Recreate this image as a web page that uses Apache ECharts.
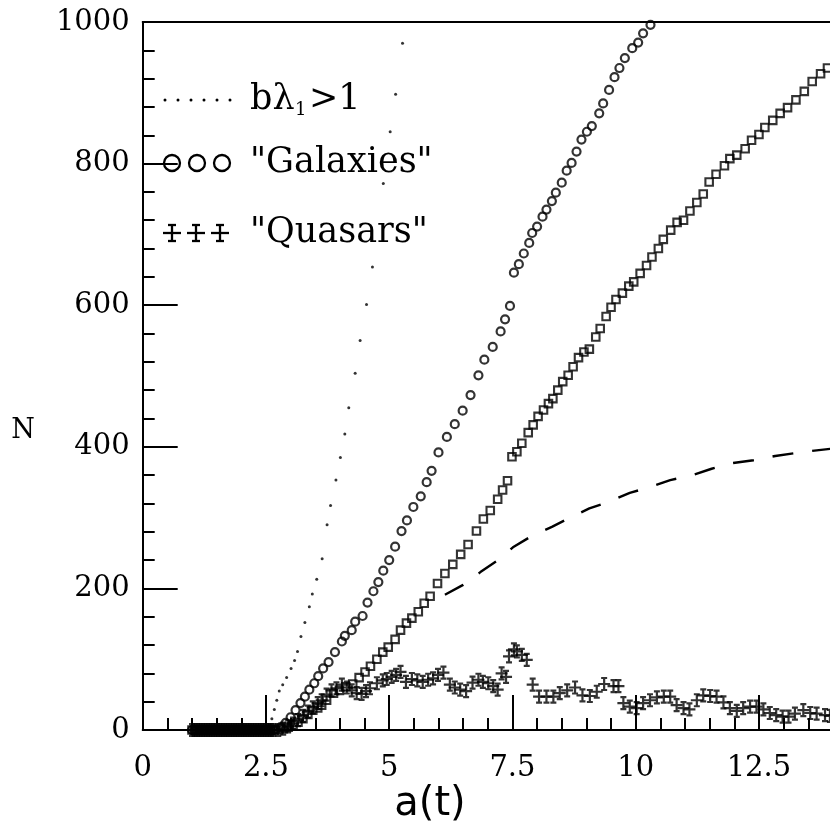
<!DOCTYPE html>
<html>
<head>
<meta charset="utf-8">
<script src="https://cdn.jsdelivr.net/npm/echarts@6/dist/echarts.min.js"></script>
<style>
  html, body { margin: 0; padding: 0; background: #fff; }
  #chart { width: 830px; height: 828px; }
</style>
</head>
<body>
<div id="chart"></div>
<script>
// Early flat stretch: every population sits at N = 0 for these expansion factors
const earlyA = [1.00,1.05,1.10,1.15,1.20,1.25,1.30,1.35,1.40,1.45,1.50,1.55,1.60,1.65,1.70,1.75,1.80,1.85,1.90,1.95,2.00,2.05,2.10,2.15,2.20,2.25,2.30,2.35,2.40,2.45,2.50,2.55,2.60,2.65];

// "Galaxies" (open circles)
const galA = [2.70,2.80,2.90,3.00,3.10,3.20,3.29,3.38,3.48,3.56,3.66,3.77,3.90,4.04,4.10,4.24,4.31,4.46,4.56,4.68,4.78,4.88,5.00,5.12,5.25,5.36,5.49,5.64,5.76,5.86,6.00,6.17,6.33,6.49,6.65,6.81,6.93,7.10,7.26,7.35,7.45,7.53,7.63,7.73,7.84,7.90,8.00,8.11,8.19,8.30,8.38,8.50,8.60,8.70,8.80,8.90,9.01,9.11,9.26,9.34,9.46,9.57,9.67,9.78,9.93,10.05,10.15,10.30];
const galN = [1,4,10,18,28,38,47,57,66,76,87,96,110,125,133,141,153,161,180,196,209,225,240,259,281,296,315,330,350,366,392,414,432,451,473,501,523,541,563,580,599,646,658,673,688,702,711,725,735,747,759,773,790,801,817,834,845,853,871,885,904,922,935,949,963,971,984,996];

// Open squares
const sqA = [2.75,2.85,2.95,3.05,3.15,3.25,3.35,3.45,3.55,3.63,3.73,3.87,3.99,4.12,4.26,4.39,4.51,4.62,4.75,4.87,4.98,5.12,5.23,5.35,5.46,5.59,5.71,5.83,5.98,6.13,6.29,6.45,6.60,6.77,6.91,7.05,7.20,7.30,7.40,7.49,7.59,7.69,7.82,7.92,8.02,8.13,8.23,8.32,8.42,8.52,8.63,8.73,8.84,8.95,9.06,9.19,9.28,9.40,9.50,9.60,9.73,9.86,9.96,10.09,10.22,10.33,10.46,10.56,10.71,10.84,10.97,11.10,11.24,11.37,11.49,11.63,11.80,11.91,12.05,12.22,12.35,12.50,12.62,12.78,12.93,13.08,13.25,13.42,13.58,13.75,13.89];
const sqN = [0,2,4,7,11,16,22,28,31,35,42,52,56,61,65,74,82,90,100,110,117,128,141,151,158,167,179,189,207,221,234,248,262,281,298,310,326,339,352,386,393,405,420,431,443,452,461,468,480,492,501,513,526,534,538,555,567,584,597,608,617,627,633,645,656,668,680,693,706,717,720,733,745,757,774,785,797,807,812,821,833,841,851,861,871,879,890,902,916,927,935];

// "Quasars" (crosses)
const qsoA = [2.75,2.85,2.95,3.05,3.15,3.25,3.35,3.45,3.55,3.63,3.73,3.83,3.93,4.04,4.14,4.24,4.34,4.44,4.53,4.61,4.75,4.87,4.95,5.05,5.14,5.23,5.34,5.46,5.57,5.68,5.79,5.89,5.99,6.10,6.23,6.33,6.44,6.56,6.69,6.81,6.90,7.01,7.11,7.20,7.28,7.37,7.43,7.53,7.59,7.69,7.79,7.91,8.04,8.19,8.33,8.46,8.61,8.77,8.92,9.07,9.21,9.36,9.55,9.65,9.75,9.88,10.02,10.15,10.29,10.43,10.57,10.70,10.83,10.97,11.09,11.24,11.37,11.51,11.64,11.78,11.91,12.05,12.18,12.32,12.45,12.59,12.72,12.85,12.98,13.10,13.23,13.40,13.54,13.67,13.84,13.94];
const qsoN = [0,2,5,9,14,20,26,32,38,42,50,56,59,64,60,56,52,51,55,59,66,70,72,75,78,82,68,72,70,68,71,73,78,81,64,60,57,55,67,71,68,66,62,57,80,75,104,114,111,106,99,64,47,47,47,52,56,60,49,48,54,65,62,62,38,33,31,38,42,46,47,47,35,31,29,42,49,48,47,39,31,27,31,33,33,29,24,21,19,19,23,28,24,23,21,20];

// b*lambda_1 > 1 threshold (small dots)
const dotA = [2.58,2.62,2.67,2.72,2.77,2.84,2.92,3.01,3.08,3.14,3.21,3.29,3.38,3.44,3.53,3.64,3.74,3.81,3.92,4.01,4.10,4.18,4.31,4.41,4.54,4.66,4.88,5.02,5.13,5.27];
const dotN = [6,16,29,42,55,64,74,87,98,111,132,152,174,192,213,242,290,317,353,385,418,455,504,550,601,654,772,845,898,970];

// Dashed curve
const dashA = [6.13,6.50,6.85,7.21,7.51,7.89,8.30,8.70,9.06,9.48,9.88,10.29,10.70,11.15,11.54,11.97,12.39,12.83,13.23,13.67,14.20];
const dashN = [191,205,223,240,258,274,287,301,313,323,335,343,353,360,369,377,381,387,391,395,399];

// Axis ticks
const xTickStep = 2.5;
const yTickStep = 200;

function pairs(xs, ys) {
  const n = Math.min(xs.length, ys.length);
  const out = [];
  for (let i = 0; i < n; i++) out.push([xs[i], ys[i]]);
  return out;
}
function withEarly(xs, ys) {
  return earlyA.map(a => [a, 0]).concat(pairs(xs, ys));
}

const INK = '#000';
const serif = 'DejaVu Serif';
const crossPath = 'path://M3,0L9,0M6,0L6,12M0,6L12,6M3,12L9,12';

const chart = echarts.init(document.getElementById('chart'), null, { renderer: 'canvas' });

// Legend glyphs drawn as plain shapes next to the left axis, plus axis titles
const legend = [];
[165, 178, 191, 204, 217, 230].forEach(x => legend.push({
  type: 'circle', shape: { cx: x, cy: 100, r: 1.5 }, style: { fill: INK }
}));
[172, 197, 222].forEach(x => legend.push({
  type: 'circle', shape: { cx: x, cy: 163, r: 8 }, style: { fill: 'none', stroke: INK, lineWidth: 2.3 }
}));
[172, 196, 220].forEach(x => {
  const y = 233;
  const segs = [[x - 4, y - 8, x + 4, y - 8], [x, y - 8, x, y + 8], [x - 9, y, x + 9, y], [x - 4, y + 8, x + 4, y + 8]];
  segs.forEach(s => legend.push({
    type: 'line', shape: { x1: s[0], y1: s[1], x2: s[2], y2: s[3] }, style: { stroke: INK, lineWidth: 2.3 }
  }));
});
const legendFont = '35px "DejaVu Serif"';
legend.push({ type: 'text', x: 250, y: 100, style: { text: 'bλ', font: legendFont, fill: INK, verticalAlign: 'middle' } });
legend.push({ type: 'text', x: 295, y: 110, style: { text: '1', font: '18px "DejaVu Serif"', fill: INK, verticalAlign: 'middle' } });
legend.push({ type: 'text', x: 309, y: 100, style: { text: '>1', font: legendFont, fill: INK, verticalAlign: 'middle' } });
legend.push({ type: 'text', x: 250, y: 163, style: { text: '"Galaxies"', font: legendFont, fill: INK, verticalAlign: 'middle' } });
legend.push({ type: 'text', x: 250, y: 233, style: { text: '"Quasars"', font: legendFont, fill: INK, verticalAlign: 'middle' } });
legend.push({ type: 'text', x: 430, y: 805, style: { text: 'a(t)', font: '40px "DejaVu Sans"', fill: INK, align: 'center', verticalAlign: 'middle' } });
legend.push({ type: 'text', x: 23, y: 431, style: { text: 'N', font: '27px "DejaVu Serif"', fill: INK, align: 'center', verticalAlign: 'middle' } });

const option = {
  backgroundColor: '#fff',
  animation: false,
  grid: { left: 142.7, top: 22, width: 739.5, height: 708, containLabel: false, outerBoundsMode: 'none' },
  xAxis: [{
    type: 'value', min: 0, max: 15, interval: xTickStep,
    axisLine: { show: true, lineStyle: { color: INK, width: 2 } },
    axisTick: { show: true, inside: true, length: 35, lineStyle: { color: INK, width: 2 } },
    minorTick: { show: true, splitNumber: 5, length: 12, lineStyle: { color: INK, width: 2 } },
    splitLine: { show: false },
    axisLabel: {
      margin: 10, showMaxLabel: false, padding: [14, 0, 0, 0],
      fontFamily: serif, fontSize: 29, color: INK
    }
  }, {
    type: 'value', min: 0, max: 15, position: 'top',
    axisLine: { show: true, onZero: false, lineStyle: { color: INK, width: 2 } },
    axisTick: { show: false }, axisLabel: { show: false }, splitLine: { show: false }
  }],
  yAxis: {
    type: 'value', min: 0, max: 1000, interval: yTickStep,
    axisLine: { show: true, lineStyle: { color: INK, width: 2 } },
    axisTick: { show: true, inside: true, length: 35, lineStyle: { color: INK, width: 2 } },
    minorTick: { show: true, splitNumber: 5, length: 12, lineStyle: { color: INK, width: 2 } },
    splitLine: { show: false },
    axisLabel: { margin: 13, formatter: v => String(v), fontFamily: serif, fontSize: 29, color: INK }
  },
  graphic: legend,
  series: [
    {
      name: 'dashed', type: 'line', data: pairs(dashA, dashN), showSymbol: false, symbol: 'none',
      lineStyle: { color: INK, width: 2.4, type: [21, 19] }, z: 2
    },
    {
      name: 'Quasars', type: 'scatter', data: withEarly(qsoA, qsoN),
      symbol: crossPath, symbolSize: 12,
      itemStyle: { color: 'rgba(0,0,0,0)', borderColor: INK, borderWidth: 2.2 }, z: 3
    },
    {
      name: 'squares', type: 'scatter', data: withEarly(sqA, sqN),
      symbol: 'rect', symbolSize: 7.5,
      itemStyle: { color: 'rgba(0,0,0,0)', borderColor: INK, borderWidth: 2.1 }, z: 3
    },
    {
      name: 'Galaxies', type: 'scatter', data: withEarly(galA, galN),
      symbol: 'circle', symbolSize: 8,
      itemStyle: { color: 'rgba(0,0,0,0)', borderColor: INK, borderWidth: 2.2 }, z: 4
    },
    {
      name: 'threshold', type: 'scatter', data: pairs(dotA, dotN),
      symbol: 'circle', symbolSize: 3,
      itemStyle: { color: INK }, z: 4
    }
  ]
};
chart.setOption(option);
</script>
</body>
</html>
